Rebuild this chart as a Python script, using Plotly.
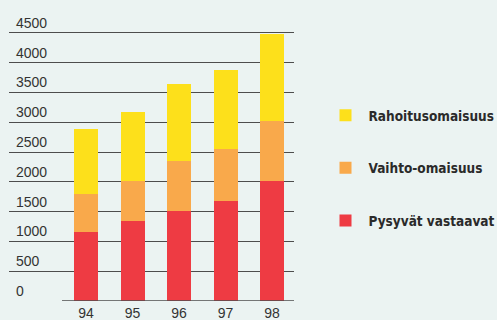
import plotly.graph_objects as go

# Balance sheet asset structure, 1994-1998
years = ["94", "95", "96", "97", "98"]
pysyvat = [1160, 1350, 1510, 1680, 2015]      # Pysyvät vastaavat
vaihto = [640, 670, 840, 875, 1010]           # Vaihto-omaisuus
rahoitus = [1090, 1160, 1300, 1330, 1450]     # Rahoitusomaisuus
y_ticks = [0, 500, 1000, 1500, 2000, 2500, 3000, 3500, 4000, 4500]

series = [
    ("Pysyvät vastaavat", pysyvat, "#EE3B43"),
    ("Vaihto-omaisuus", vaihto, "#F9A94B"),
    ("Rahoitusomaisuus", rahoitus, "#FDE01B"),
]

BG = "#EBF3F2"
GRID = "#4d4d4d"
TEXT = "#333333"

fig = go.Figure()
for i, (name, vals, color) in enumerate(series):
    fig.add_trace(go.Bar(
        x=years, y=vals, name=name, width=0.516,
        marker=dict(color=color, line=dict(width=0)),
        legendgroup=f"g{i}", legendrank=3 - i,
    ))

# Horizontal base line under the bars only
fig.add_shape(type="line", xref="x", yref="y",
              x0=-0.516, x1=4.473, y0=0, y1=0,
              line=dict(color=GRID, width=1.3), layer="above")

# Value labels sitting above their grid lines
for v in y_ticks:
    fig.add_annotation(xref="paper", yref="y", x=0.0175, y=v,
                       text=str(v), showarrow=False,
                       xanchor="left", yanchor="bottom", yshift=0,
                       font=dict(family="Liberation Sans", size=14, color=TEXT))

fig.update_layout(
    width=497, height=320,
    margin=dict(l=9, r=203, t=21.4, b=19.3, autoexpand=False),
    paper_bgcolor=BG, plot_bgcolor=BG,
    barmode="stack",
    showlegend=True,
    legend=dict(
        x=1.1, xanchor="left", y=0.475, yanchor="middle",
        traceorder="grouped", tracegroupgap=32,
        font=dict(family="DejaVu Sans Condensed, Liberation Sans", size=13.5,
                  color="#2a2a2a", weight="bold"),
        bgcolor="rgba(0,0,0,0)", itemwidth=36,
    ),
    xaxis=dict(
        type="category", range=[-1.656, 4.473], automargin=False,
        showgrid=False, zeroline=False, showline=False, ticks="",
        ticklabelstandoff=2,
        tickfont=dict(family="Liberation Sans", size=14, color=TEXT),
    ),
    yaxis=dict(
        range=[0, 4700], tickvals=y_ticks[1:], showticklabels=False,
        showgrid=True, gridcolor=GRID, gridwidth=1.1, zeroline=False,
        showline=False, ticks="", automargin=False,
    ),
)

fig.write_html("out.html")
